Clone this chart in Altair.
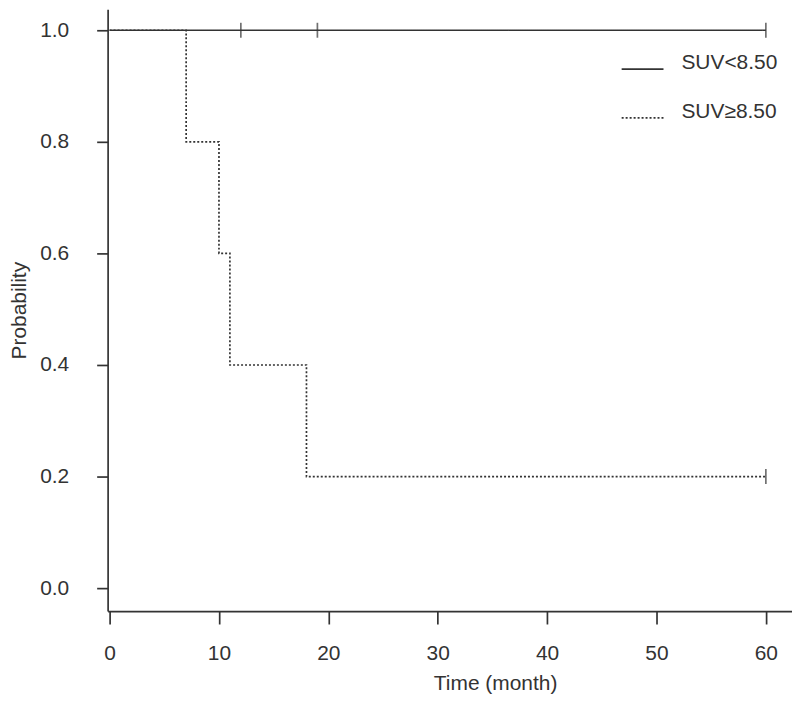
import altair as alt
import pandas as pd

# Kaplan-Meier step data
low_time = [0, 60]
low_surv = [1.0, 1.0]
high_time = [0, 7, 10, 11, 18, 60]
high_surv = [1.0, 0.8, 0.6, 0.4, 0.2, 0.2]
groups = ["SUV<8.50", "SUV\u22658.50"]

# censor marks
cens_time = [12, 19, 60, 60]
cens_surv = [1.0, 1.0, 1.0, 0.2]
cens_group = [groups[0], groups[0], groups[0], groups[1]]

x_ticks = [0, 10, 20, 30, 40, 50, 60]
y_ticks = [0.0, 0.2, 0.4, 0.6, 0.8, 1.0]

rows = [{"time": t, "surv": s, "group": groups[0]} for t, s in zip(low_time, low_surv)]
rows += [{"time": t, "surv": s, "group": groups[1]} for t, s in zip(high_time, high_surv)]
df = pd.DataFrame(rows)
cdf = pd.DataFrame({"time": cens_time, "surv": cens_surv, "group": cens_group})

FONT = "Liberation Sans"
INK = "#333333"
FS = 21

x = alt.X("time:Q", title="Time (month)",
          scale=alt.Scale(domain=[-0.18, 62.39], nice=False, zero=False),
          axis=alt.Axis(values=x_ticks, format="d", grid=False, tickSize=13,
                        labelPadding=19, titlePadding=9, titleX=389, titleAnchor="start",
                        titleAlign="center"))
y = alt.Y("surv:Q", title="Probability",
          scale=alt.Scale(domain=[-0.041, 1.0375], nice=False, zero=False),
          axis=alt.Axis(values=y_ticks, format=".1f", grid=False, tickSize=11,
                        labelPadding=28, titlePadding=10))

lines = alt.Chart(df).mark_line(interpolate="step-after", strokeWidth=1.7, color=INK).encode(
    x=x, y=y,
    strokeDash=alt.StrokeDash("group:N",
        scale=alt.Scale(domain=groups, range=[[1, 0], [2, 2]]),
        legend=alt.Legend(title=None, orient="none", legendX=515, legendY=38,
                          symbolType="stroke", symbolSize=1764, symbolStrokeWidth=1.7,
                          symbolStrokeColor=INK, labelFontSize=FS, labelFont=FONT,
                          labelColor=INK, labelOffset=17, rowPadding=23,
                          labelBaseline="alphabetic")),
)

ticks = alt.Chart(cdf).mark_tick(orient="vertical", size=15, thickness=1.7, color=INK).encode(
    x="time:Q", y="surv:Q"
)

chart = alt.layer(lines, ticks).properties(
    width=687, height=604,
    autosize=alt.AutoSizeParams(type="none"),
    padding={"left": 100, "top": 0, "right": 0, "bottom": 98},
).configure_view(stroke=None).configure_axis(
    domainColor=INK, domainWidth=1.7, tickColor=INK, tickWidth=1.7,
    labelColor=INK, labelFont=FONT, labelFontSize=FS,
    titleColor=INK, titleFont=FONT, titleFontSize=FS, titleFontWeight="normal",
)

chart.save("out.html", embed_options={"renderer": "svg", "actions": False})
